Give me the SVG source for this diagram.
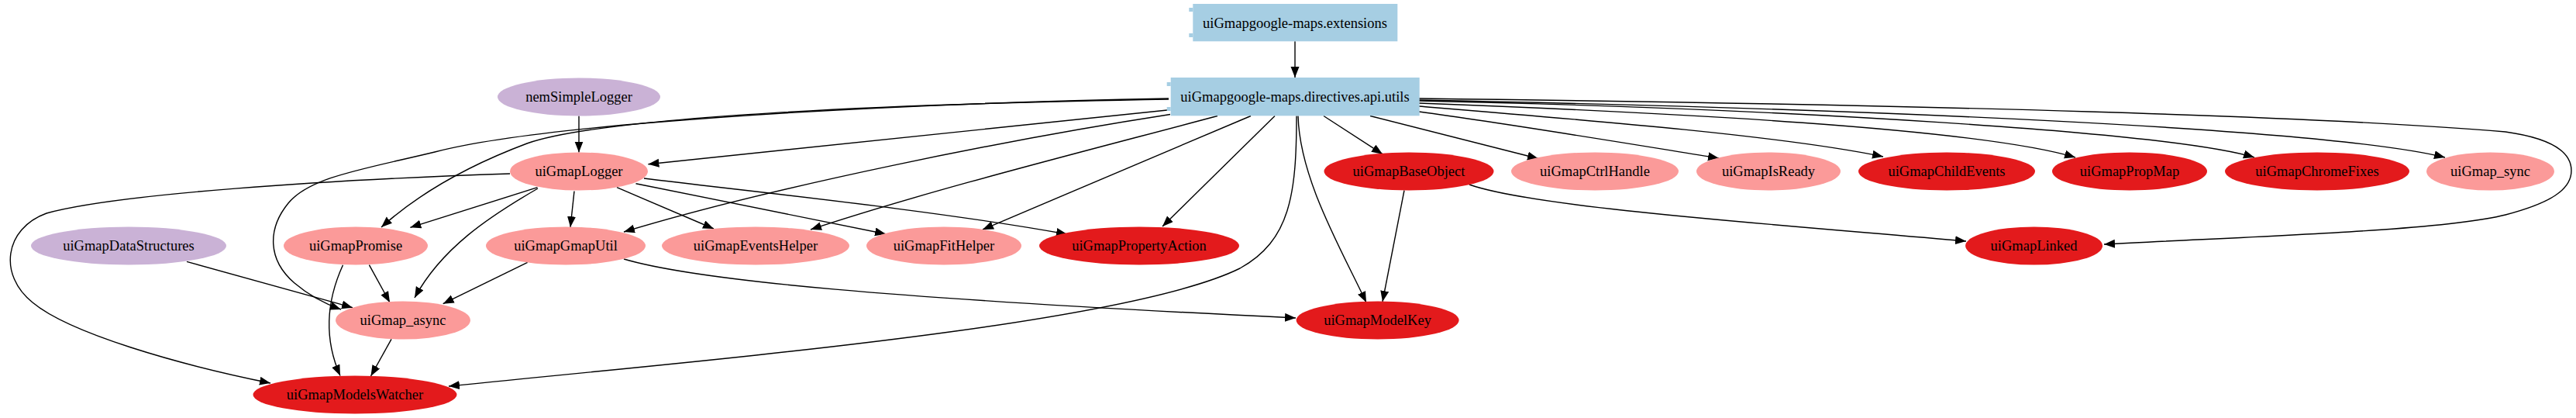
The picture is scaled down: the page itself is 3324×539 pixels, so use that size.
<svg xmlns="http://www.w3.org/2000/svg" width="3324" height="539" viewBox="0 0 3324 539">
<style>
text{font-family:"Liberation Serif","Times New Roman",serif;font-size:18.5px;fill:#000;text-anchor:middle}
.box{fill:#a6cee3}
.pur{fill:#cab2d6}
.pink{fill:#fb9a99}
.red{fill:#e31a1c}
.e{fill:none;stroke:#000;stroke-width:1.4;marker-end:url(#arr)}
</style>
<defs>
<marker id="arr" markerUnits="userSpaceOnUse" markerWidth="15" markerHeight="12" refX="14" refY="5.5" orient="auto">
<path d="M0,0 L14,5.5 L0,11 z" fill="#000"/>
</marker>
</defs>
<rect width="3324" height="539" fill="#fff"/>
<g id="edges">
<path class="e" d="M1671,53.3 V100"/>
<path class="e" d="M747,149.5 V196.5"/>
<path class="e" d="M1508.6,141.7 L836.4,211.7"/>
<path class="e" d="M1508,127 C1100,135 700,160 561,196 C470,218 400,228 372,262 C345,295 345,335 380,365 C400,382 420,392 440,399"/>
<path class="e" d="M1508,128 C1150,134 780,150 680,185 C600,215 540,250 492,293"/>
<path class="e" d="M1510,147.5 C1300,180 1000,240 805,299"/>
<path class="e" d="M1571,149.5 C1400,195 1200,245 1046,296"/>
<path class="e" d="M1614,149.5 L1268,296"/>
<path class="e" d="M1645,149.5 L1500,292"/>
<path class="e" d="M1673,149.5 C1673,250 1665,310 1600,346 C1450,420 900,465 579,498"/>
<path class="e" d="M1675,149.5 C1677,230 1730,320 1763,390"/>
<path class="e" d="M1708,149.5 L1784,198.7"/>
<path class="e" d="M1768,149.5 L1985,204.5"/>
<path class="e" d="M1831,144 C1950,160 2100,185 2218,204"/>
<path class="e" d="M1831,137 C2050,155 2300,175 2430,202"/>
<path class="e" d="M1831,133 C2150,145 2550,165 2678,203"/>
<path class="e" d="M1831,130 C2300,140 2800,170 2909,203"/>
<path class="e" d="M1831,129 C2400,140 3000,165 3155,203"/>
<path class="e" d="M1831,127 C2500,135 3000,150 3233,170 C3290,178 3318,195 3318,220 C3318,245 3290,262 3233,277 C3150,298 2900,305 2715,315"/>
<path class="e" d="M1812,245.5 L1784,389"/>
<path class="e" d="M1896,238 C1980,268 2300,290 2537,311"/>
<path class="e" d="M693.5,241.7 L529.4,293.3"/>
<path class="e" d="M694,243 C630,280 570,320 535,384"/>
<path class="e" d="M741,246.5 L736,293"/>
<path class="e" d="M796,241.7 L921,295"/>
<path class="e" d="M820.5,236.7 L1143,301.7"/>
<path class="e" d="M831,230 C950,245 1200,270 1377,302"/>
<path class="e" d="M658,224 C420,232 150,250 60,275 C5,295 -2,355 42,390 C90,430 230,470 349,494"/>
<path class="e" d="M241,337.3 L455,396.7"/>
<path class="e" d="M476.4,341.7 L503,390"/>
<path class="e" d="M442.5,341.7 C425,380 415,430 439,484.5"/>
<path class="e" d="M505,437.3 L478.5,485"/>
<path class="e" d="M680.7,338.3 L571.7,391.7"/>
<path class="e" d="M805,334 C900,362 1150,385 1672,410"/>
</g>
<g id="n_ext">
<rect class="box" x="1539.3" y="5" width="264" height="48.3"/>
<rect class="box" x="1534.3" y="10" width="5" height="5"/>
<rect class="box" x="1534.3" y="43" width="5" height="5"/>
<text x="1671" y="35.5">uiGmapgoogle-maps.extensions</text>
</g>
<g id="n_utils">
<rect class="box" x="1510.7" y="100" width="321" height="49.3"/>
<rect class="box" x="1505.7" y="106" width="5" height="5"/>
<rect class="box" x="1505.7" y="138" width="5" height="5"/>
<text x="1671" y="131">uiGmapgoogle-maps.directives.api.utils</text>
</g>
<g id="n_nemSimpleLogger"><ellipse class="pur" cx="747" cy="125" rx="105" ry="24.5"/><text x="747" y="131">nemSimpleLogger</text></g>
<g id="n_Logger"><ellipse class="pink" cx="747" cy="221" rx="89" ry="24.5"/><text x="747" y="227">uiGmapLogger</text></g>
<g id="n_BaseObject"><ellipse class="red" cx="1818" cy="221" rx="109.5" ry="24.5"/><text x="1818" y="227">uiGmapBaseObject</text></g>
<g id="n_CtrlHandle"><ellipse class="pink" cx="2058" cy="221" rx="108" ry="24.5"/><text x="2058" y="227">uiGmapCtrlHandle</text></g>
<g id="n_IsReady"><ellipse class="pink" cx="2282" cy="221" rx="93" ry="24.5"/><text x="2282" y="227">uiGmapIsReady</text></g>
<g id="n_ChildEvents"><ellipse class="red" cx="2512" cy="221" rx="114" ry="24.5"/><text x="2512" y="227">uiGmapChildEvents</text></g>
<g id="n_PropMap"><ellipse class="red" cx="2748" cy="221" rx="100" ry="24.5"/><text x="2748" y="227">uiGmapPropMap</text></g>
<g id="n_ChromeFixes"><ellipse class="red" cx="2990" cy="221" rx="119" ry="24.5"/><text x="2990" y="227">uiGmapChromeFixes</text></g>
<g id="n_sync"><ellipse class="pink" cx="3213.5" cy="221" rx="82.5" ry="24.5"/><text x="3213.5" y="227">uiGmap_sync</text></g>
<g id="n_DataStructures"><ellipse class="pur" cx="166" cy="317" rx="126" ry="24.5"/><text x="166" y="323">uiGmapDataStructures</text></g>
<g id="n_Promise"><ellipse class="pink" cx="459" cy="317" rx="93" ry="24.5"/><text x="459" y="323">uiGmapPromise</text></g>
<g id="n_GmapUtil"><ellipse class="pink" cx="730" cy="317" rx="103" ry="24.5"/><text x="730" y="323">uiGmapGmapUtil</text></g>
<g id="n_EventsHelper"><ellipse class="pink" cx="975" cy="317" rx="121" ry="24.5"/><text x="975" y="323">uiGmapEventsHelper</text></g>
<g id="n_FitHelper"><ellipse class="pink" cx="1218" cy="317" rx="100" ry="24.5"/><text x="1218" y="323">uiGmapFitHelper</text></g>
<g id="n_PropertyAction"><ellipse class="red" cx="1470" cy="317" rx="129" ry="24.5"/><text x="1470" y="323">uiGmapPropertyAction</text></g>
<g id="n_Linked"><ellipse class="red" cx="2624.6" cy="317" rx="88.5" ry="24.5"/><text x="2624.6" y="323">uiGmapLinked</text></g>
<g id="n_async"><ellipse class="pink" cx="520" cy="413" rx="87" ry="24.5"/><text x="520" y="419">uiGmap_async</text></g>
<g id="n_ModelKey"><ellipse class="red" cx="1777.6" cy="413" rx="105" ry="24.5"/><text x="1777.6" y="419">uiGmapModelKey</text></g>
<g id="n_ModelsWatcher"><ellipse class="red" cx="458" cy="509" rx="131.5" ry="24.5"/><text x="458" y="515">uiGmapModelsWatcher</text></g>
</svg>
